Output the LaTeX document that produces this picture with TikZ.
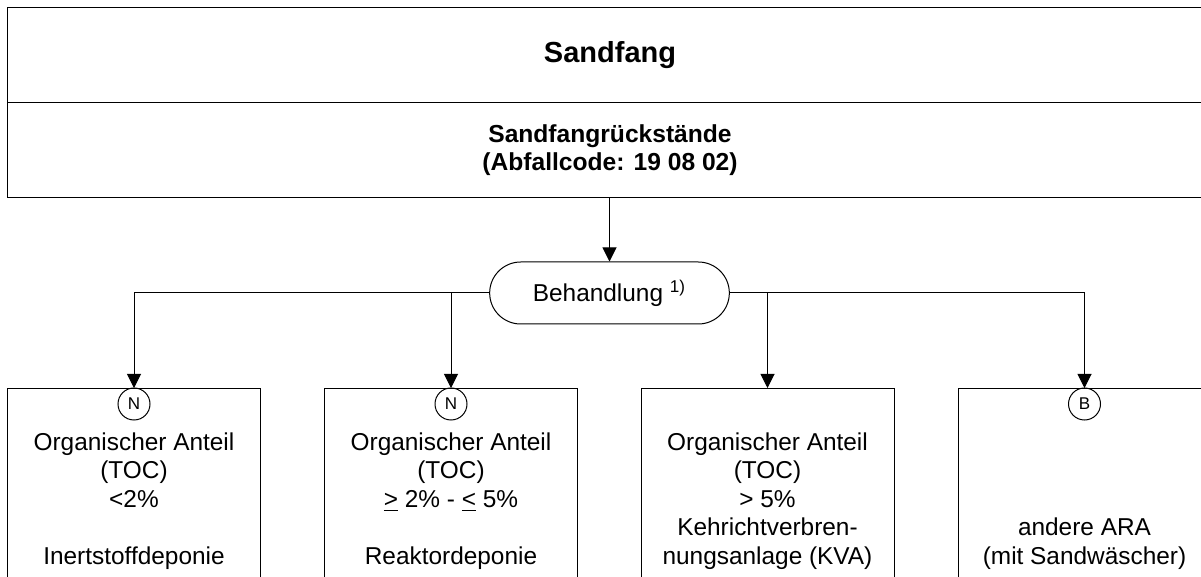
\documentclass[tikz,border=0pt]{standalone}
\usepackage{fontspec}
\setmainfont{Liberation Sans}
\usetikzlibrary{arrows.meta,shapes.misc,positioning}

\begin{document}
\begin{tikzpicture}[
    x=0.5pt, y=-0.5pt,
    line width=0.5pt,
    header/.style={rectangle, draw, minimum width=603pt, minimum height=47.5pt, inner sep=0pt, align=center},
    treat/.style={rounded rectangle, draw, minimum width=126.5pt, minimum height=31pt, font=\fontsize{12.2}{14.25}\selectfont},
    target/.style={rectangle, draw, minimum width=126.5pt, minimum height=110pt, anchor=north},
    flag/.style={circle, draw, minimum size=16pt, inner sep=0pt, font=\fontsize{8.5}{9}\selectfont},
    boxtext/.style={anchor=north, inner sep=0pt, align=center, font=\fontsize{12.2}{14.25}\selectfont},
    arrow/.style={-{Triangle[length=7pt,width=7pt]}}
]
\useasboundingbox (0,0) rectangle (1201,577);
\clip (0,0) rectangle (1201,577);

% Header
\node[header, font=\bfseries\fontsize{14.5}{17}\selectfont] (top1) at (610,55.5) {Sandfang};
\node[header, font=\bfseries\fontsize{12.3}{14}\selectfont] (top2) at (610,150.5) {Sandfangrückstände\\(Abfallcode: 19 08 02)};

% Treatment
\node[treat] (behandlung) at (609.5,293) {Behandlung \textsuperscript{1)}};

% Target boxes
\node[target] (box1) at (134,388) {};
\node[target] (box2) at (451,388) {};
\node[target] (box3) at (767.5,388) {};
\node[target] (box4) at (1084.5,388) {};

\node[flag] (n1) at (134,404) {N};
\node[flag] (n2) at (451,404) {N};
\node[flag] (b4) at (1084.5,404) {B};

\node[boxtext] (txt1) at (134,432) {Organischer Anteil\\(TOC)\\<2\%\\[14.25pt]Inertstoffdeponie};
\node[boxtext] (txt2) at (451,432) {Organischer Anteil\\(TOC)\\\underline{>} 2\% - \underline{<} 5\%\\[14.25pt]Reaktordeponie};
\node[boxtext] (txt3) at (767.5,432) {Organischer Anteil\\(TOC)\\> 5\%\\Kehrichtverbren-\\nungsanlage (KVA)};
\node[boxtext] (txt4) at (1084.5,517.5) {andere ARA\\(mit Sandwäscher)};

% Connections
\draw[arrow] (top2.south -| behandlung.north) -- (behandlung.north);
\draw[arrow] (behandlung.west) -| (box1.north);
\draw[arrow] (behandlung.west -| box2.north) -- (box2.north);
\draw[arrow] (behandlung.east -| box3.north) -- (box3.north);
\draw[arrow] (behandlung.east) -| (box4.north);

\end{tikzpicture}
\end{document}
